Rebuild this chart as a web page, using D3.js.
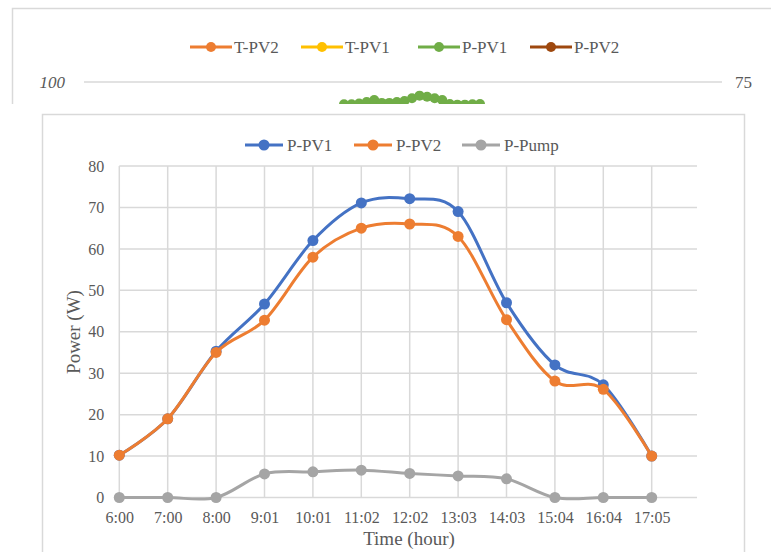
<!DOCTYPE html>
<html>
<head>
<meta charset="utf-8">
<script src="https://cdn.jsdelivr.net/npm/d3@7"></script>
<style>
  body { margin: 0; background: #fff; }
  svg { display: block; font-family: "Liberation Serif", "Times New Roman", serif; }
</style>
</head>
<body>
<div id="chart"></div>
<script>
// main chart data
var times = ["6:00", "7:00", "8:00", "9:01", "10:01", "11:02", "12:02", "13:03", "14:03", "15:04", "16:04", "17:05"];
var pPV1 = [10.2, 19, 35.3, 46.7, 62, 71.1, 72.1, 69, 47, 32, 27.2, 10];
var pPV2 = [10.2, 19, 35, 42.8, 58, 65, 66, 63, 42.9, 28.1, 26.1, 10];
var pPump = [0, 0, 0, 5.7, 6.2, 6.6, 5.8, 5.2, 4.5, 0, 0, 0];
var yTicks = [0, 10, 20, 30, 40, 50, 60, 70, 80];

// chart sitting behind (only the top strip shows)
var bgNames = ["T-PV2", "T-PV1", "P-PV1", "P-PV2"];
var bgColors = ["#ED7D31", "#FFC000", "#70AD47", "#9E480E"];
var bgGreen = [89.9, 89.9, 90.2, 90.9, 91.8, 90.5, 90.5, 90.9, 91.4, 92.6, 93.8, 93.3, 92.6, 91.8, 90, 89.7, 89.7, 89.9, 90];

var W = 771, H = 552;
var svg = d3.select("#chart").append("svg").attr("width", W).attr("height", H);
var grey = "#D9D9D9", txt = "#595959";

// ---- background chart ----
svg.append("defs").append("clipPath").attr("id", "bgclip")
  .append("rect").attr("x", 0).attr("y", 0).attr("width", W).attr("height", 104);

var bg = svg.append("g").attr("clip-path", "url(#bgclip)");
bg.append("path").attr("d", "M12.5,110V8.5H" + W)
  .attr("fill", "none").attr("stroke", grey).attr("stroke-width", 1.5);

var bgLegX = [190, 301, 418, 530];
bgNames.forEach(function(n, i) {
  var g = bg.append("g").attr("transform", "translate(" + bgLegX[i] + ",47)");
  g.append("line").attr("x1", 0).attr("x2", 42).attr("stroke", bgColors[i]).attr("stroke-width", 3);
  g.append("circle").attr("cx", 21).attr("r", 5).attr("fill", bgColors[i]);
  g.append("text").attr("x", 44).attr("dy", "0.35em").attr("font-size", 17).attr("fill", txt).text(n);
});

var bgY = d3.scaleLinear().domain([100, 90]).range([82, 104]);
bg.append("line").attr("x1", 84).attr("x2", 722).attr("y1", bgY(100)).attr("y2", bgY(100))
  .attr("stroke", grey).attr("stroke-width", 1.5);
bg.append("text").attr("x", 65).attr("y", bgY(100)).attr("dy", "0.35em").attr("text-anchor", "end")
  .attr("font-size", 17).attr("font-style", "italic").attr("fill", txt).text("100");
bg.append("text").attr("x", 735).attr("y", bgY(100)).attr("dy", "0.35em")
  .attr("font-size", 17).attr("fill", txt).text("75");

var bgX = d3.scaleLinear().domain([0, bgGreen.length - 1]).range([344, 480]);
bg.append("path").datum(bgGreen)
  .attr("d", d3.line().x(function(d, i) { return bgX(i); }).y(function(d) { return bgY(d); }))
  .attr("fill", "none").attr("stroke", "#70AD47").attr("stroke-width", 3);
bg.selectAll("circle.g").data(bgGreen).enter().append("circle").attr("class", "g")
  .attr("cx", function(d, i) { return bgX(i); })
  .attr("cy", function(d) { return bgY(d); })
  .attr("r", 5).attr("fill", "#70AD47");

// ---- main chart ----
svg.append("rect").attr("x", 42.5).attr("y", 114.5).attr("width", 702).attr("height", 500)
  .attr("fill", "#fff").attr("stroke", grey).attr("stroke-width", 1.5);

var x = d3.scaleLinear().domain([0, times.length - 1]).range([119.3, 651.7]);
var y = d3.scaleLinear().domain([0, 80]).range([497.5, 166]);
var plotRight = 697;

var grid = svg.append("g");
grid.selectAll("line.h").data(yTicks).enter().append("line").attr("class", "h")
  .attr("x1", x(0)).attr("x2", plotRight)
  .attr("y1", function(d) { return y(d); }).attr("y2", function(d) { return y(d); })
  .attr("stroke", grey).attr("stroke-width", 1.5);
grid.selectAll("line.v").data(times).enter().append("line").attr("class", "v")
  .attr("x1", function(d, i) { return x(i); }).attr("x2", function(d, i) { return x(i); })
  .attr("y1", y(80)).attr("y2", y(0))
  .attr("stroke", grey).attr("stroke-width", 1.5);

// y axis labels
var yAx = svg.append("g").attr("transform", "translate(" + x(0) + ",0)")
  .call(d3.axisLeft(y).tickValues(yTicks).tickSize(0).tickPadding(15));
yAx.attr("font-family", null).attr("font-size", 16);
yAx.select(".domain").remove();
yAx.selectAll("text").attr("fill", txt);

// x axis labels
var xAx = svg.append("g").attr("transform", "translate(0," + y(0) + ")")
  .call(d3.axisBottom(x).tickValues(d3.range(times.length)).tickFormat(function(i) { return times[i]; })
    .tickSize(0).tickPadding(14));
xAx.attr("font-family", null).attr("font-size", 16);
xAx.select(".domain").remove();
xAx.selectAll("text").attr("fill", txt);

svg.append("text").attr("x", 409).attr("y", 545).attr("text-anchor", "middle")
  .attr("font-size", 19).attr("fill", txt).text("Time (hour)");
svg.append("text").attr("transform", "translate(80,332) rotate(-90)").attr("text-anchor", "middle")
  .attr("font-size", 19).attr("fill", txt).text("Power (W)");

// series
var series = [
  {name: "P-PV1", values: pPV1, color: "#4472C4"},
  {name: "P-PV2", values: pPV2, color: "#ED7D31"},
  {name: "P-Pump", values: pPump, color: "#A5A5A5"}
];
var line = d3.line()
  .x(function(d, i) { return x(i); })
  .y(function(d) { return y(d); })
  .curve(d3.curveCatmullRom.alpha(0));

series.forEach(function(s) {
  var g = svg.append("g");
  g.append("path").datum(s.values).attr("d", line)
    .attr("fill", "none").attr("stroke", s.color).attr("stroke-width", 3);
  g.selectAll("circle").data(s.values).enter().append("circle")
    .attr("cx", function(d, i) { return x(i); })
    .attr("cy", function(d) { return y(d); })
    .attr("r", 5.5).attr("fill", s.color);
});

// legend
var legX = [245, 354, 462];
series.forEach(function(s, i) {
  var g = svg.append("g").attr("transform", "translate(" + legX[i] + ",145)");
  g.append("line").attr("x1", 0).attr("x2", 38).attr("stroke", s.color).attr("stroke-width", 3);
  g.append("circle").attr("cx", 19).attr("r", 5.5).attr("fill", s.color);
  g.append("text").attr("x", 42).attr("dy", "0.35em").attr("font-size", 17).attr("fill", txt).text(s.name);
});
</script>
</body>
</html>
